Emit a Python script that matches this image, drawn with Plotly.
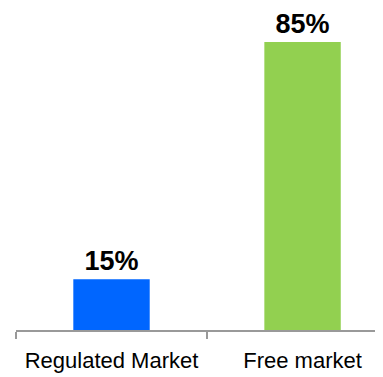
import plotly.graph_objects as go

categories = ["Regulated Market", "Free market"]
values = [15, 85]
labels = ["15%", "85%"]
colors = ["#0066FF", "#92D050"]

fig = go.Figure(go.Bar(
    x=categories, y=values, text=labels, textposition="outside",
    marker=dict(color=colors, line=dict(width=0)),
    width=0.4, cliponaxis=False,
    textfont=dict(family="Liberation Sans, Arial, sans-serif", size=27, color="#000000", weight="bold"),
))
fig.update_layout(
    width=383, height=377,
    margin=dict(l=8, r=0, t=0, b=55, autoexpand=False),
    plot_bgcolor="white", paper_bgcolor="white",
    showlegend=False,
    xaxis=dict(
        type="category", range=[-0.5, 1.463], automargin=False,
        showline=True, linecolor="#999999", linewidth=1.5,
        ticks="outside", tickson="boundaries", ticklen=7, tickcolor="#999999", tickwidth=1.5,
        tickfont=dict(family="Liberation Sans, Arial, sans-serif", size=22, color="#000000"),
        ticklabelstandoff=10,
        showgrid=False,
    ),
    yaxis=dict(range=[0, 95.0], visible=False, showgrid=False, zeroline=False, automargin=False),
)
fig.write_html("out.html")
